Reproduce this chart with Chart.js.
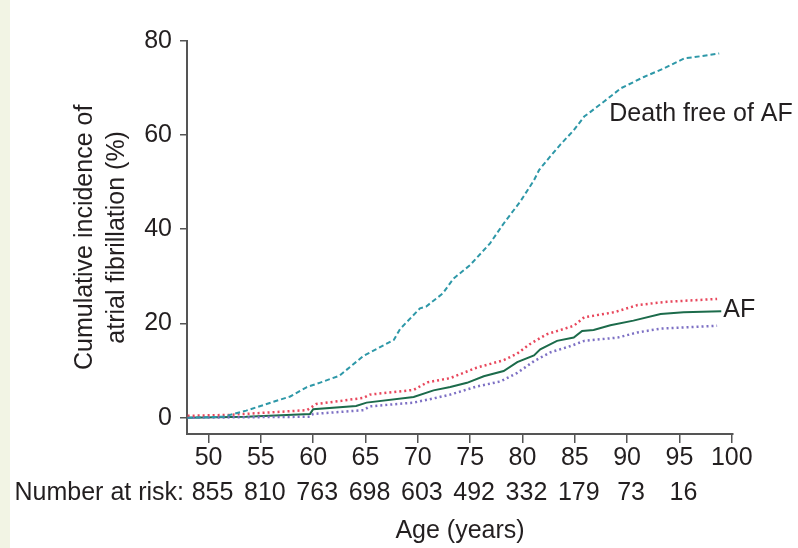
<!DOCTYPE html>
<html>
<head>
<meta charset="utf-8">
<script src="https://cdn.jsdelivr.net/npm/chart.js@4.4.1/dist/chart.umd.min.js"></script>
<style>
  html, body { margin: 0; padding: 0; }
  body { width: 798px; height: 548px; background: linear-gradient(to right, #f2f4e4 10px, #ffffff 10px); }
  #wrap { position: relative; width: 798px; height: 548px; }
</style>
</head>
<body>
<div id="wrap"><canvas id="myChart" width="798" height="548"></canvas></div>
<script>
// AF (Kaplan-Meier cumulative incidence), with upper / lower confidence bands
const afAges = [48, 53.6, 59.7, 60.0, 64.1, 65.1, 69.6, 71.5, 73.1, 74.7, 76.3, 78.2, 79.5, 81.1, 81.7, 83.3, 84.9, 85.7, 86.8, 88.4, 90.6, 93.2, 95.4, 99.0];
const afVals = [0, 0.2, 0.8, 1.8, 2.5, 3.2, 4.4, 5.8, 6.5, 7.4, 8.8, 9.9, 11.8, 13.2, 14.5, 16.3, 17.0, 18.4, 18.6, 19.6, 20.6, 22.0, 22.4, 22.6];

const upperAges = [48, 52, 59.4, 60.3, 64.8, 65.4, 69.6, 70.9, 73.1, 74.0, 75.6, 78.2, 79.5, 80.7, 82.3, 84.9, 85.9, 88.8, 91.0, 93.8, 98.6];
const upperVals = [0.4, 0.6, 1.6, 2.9, 4.2, 4.9, 5.9, 7.5, 8.4, 9.2, 10.6, 12.2, 13.6, 15.6, 17.7, 19.5, 21.3, 22.4, 23.9, 24.6, 25.2];

const lowerAges = [48, 59.7, 60.0, 64.8, 65.4, 69.6, 71.5, 73.1, 75.6, 77.9, 79.5, 81.1, 82.7, 84.6, 85.9, 89.1, 91.0, 93.2, 98.6];
const lowerVals = [0, 0.2, 0.8, 1.6, 2.4, 3.2, 4.1, 4.9, 6.6, 7.7, 9.5, 12.0, 13.9, 15.2, 16.3, 17.0, 18.1, 18.9, 19.5];

// death free of AF
const deathAges = [48, 51.4, 53.6, 56.8, 57.8, 59.4, 60.6, 62.5, 64.8, 67.7, 68.3, 70.2, 70.8, 72.4, 73.4, 75.0, 76.9, 78.2, 79.8, 81.1, 81.6, 82.6, 83.6, 84.9, 85.9, 86.5, 87.8, 89.4, 91.6, 93.5, 95.5, 96.4, 98.8];
const deathVals = [0, 0.2, 1.5, 3.8, 4.5, 6.5, 7.4, 8.9, 13.1, 16.5, 18.8, 23.2, 23.6, 26.4, 29.5, 32.4, 37.0, 41.2, 45.9, 50.4, 52.6, 55.3, 57.9, 61.0, 63.9, 64.9, 67.1, 69.9, 72.3, 74.1, 76.3, 76.5, 77.3];

// axes and number at risk row
const xTicks = [50, 55, 60, 65, 70, 75, 80, 85, 90, 95, 100];
const yTicks = [0, 20, 40, 60, 80];
const riskAges = [50, 55, 60, 65, 70, 75, 80, 85, 90, 95];
const riskCounts = [855, 810, 763, 698, 603, 492, 332, 179, 73, 16];

const FONT = '"Liberation Sans", Arial, Helvetica, sans-serif';
const TEXT = '#231f20';
const AXIS = '#555555';

function pts(xs, ys) {
    return xs.map((x, i) => ({ x: x, y: ys[i] }));
}

// text that is not part of the axes: curve labels and number at risk
const extraText = {
    id: 'extraText',
    afterDraw(chart) {
        const ctx = chart.ctx;
        const xs = chart.scales.x;
        const ys = chart.scales.y;
        ctx.save();
        ctx.fillStyle = TEXT;
        ctx.font = '25px ' + FONT;
        ctx.textBaseline = 'middle';

        // curve labels
        ctx.textAlign = 'left';
        ctx.fillText('Death free of AF', xs.getPixelForValue(88.3), ys.getPixelForValue(64.4));
        ctx.fillText('AF', xs.getPixelForValue(99.2), ys.getPixelForValue(22.9));

        // number at risk
        const rowY = 493;
        ctx.textAlign = 'right';
        ctx.fillText('Number at risk:', 184, rowY);
        ctx.textAlign = 'center';
        riskAges.forEach((a, i) => {
            ctx.fillText(String(riskCounts[i]), xs.getPixelForValue(a) + 4, rowY);
        });
        ctx.restore();
    }
};

const ctx = document.getElementById('myChart').getContext('2d');
window.myChart = new Chart(ctx, {
    type: 'line',
    data: {
        datasets: [{
            label: 'Death free of AF',
            data: pts(deathAges, deathVals),
            borderColor: '#2e98a8',
            borderWidth: 2,
            borderDash: [5, 3],
            pointRadius: 0,
            fill: false
        }, {
            label: 'AF upper',
            data: pts(upperAges, upperVals),
            borderColor: '#e8475c',
            borderWidth: 2.5,
            borderDash: [2, 3],
            pointRadius: 0,
            fill: false
        }, {
            label: 'AF lower',
            data: pts(lowerAges, lowerVals),
            borderColor: '#7d70c4',
            borderWidth: 2.5,
            borderDash: [2, 3],
            pointRadius: 0,
            fill: false
        }, {
            label: 'AF',
            data: pts(afAges, afVals),
            borderColor: '#1c6b4b',
            borderWidth: 2,
            pointRadius: 0,
            fill: false
        }]
    },
    options: {
        responsive: false,
        animation: false,
        devicePixelRatio: 1,
        layout: { padding: { top: 40.7, right: 65, bottom: 0, left: 0 } },
        plugins: {
            legend: { display: false },
            tooltip: { enabled: false }
        },
        scales: {
            x: {
                type: 'linear',
                min: 47.94,
                max: 100.12,
                afterBuildTicks(scale) { scale.ticks = xTicks.map(v => ({ value: v })); },
                afterFit(scale) { scale.height = 114; },
                border: { display: true, color: AXIS, width: 2 },
                grid: { drawOnChartArea: false, drawTicks: true, tickLength: 9, tickColor: AXIS, lineWidth: 1.5 },
                ticks: { color: TEXT, padding: 0, font: { family: FONT, size: 25, lineHeight: 1.2 }, maxRotation: 0, autoSkip: false },
                title: {
                    display: true,
                    text: 'Age (years)',
                    color: TEXT,
                    font: { family: FONT, size: 25, lineHeight: 1.2 },
                    padding: { top: 0, bottom: 2 }
                }
            },
            y: {
                min: -3.46,
                max: 80,
                afterBuildTicks(scale) { scale.ticks = yTicks.map(v => ({ value: v })); },
                afterFit(scale) { scale.width = 187; },
                border: { display: true, color: AXIS, width: 2 },
                grid: { drawOnChartArea: false, drawTicks: true, tickLength: 7, tickColor: AXIS, lineWidth: 1.5 },
                ticks: { color: TEXT, padding: 8, font: { family: FONT, size: 25, lineHeight: 1.2 } },
                title: {
                    display: true,
                    text: ['Cumulative incidence of', 'atrial fibrillation (%)'],
                    color: TEXT,
                    font: { family: FONT, size: 25, lineHeight: 1.28 },
                    padding: { top: 69, bottom: 12 }
                }
            }
        }
    },
    plugins: [extraText]
});
</script>
</body>
</html>
